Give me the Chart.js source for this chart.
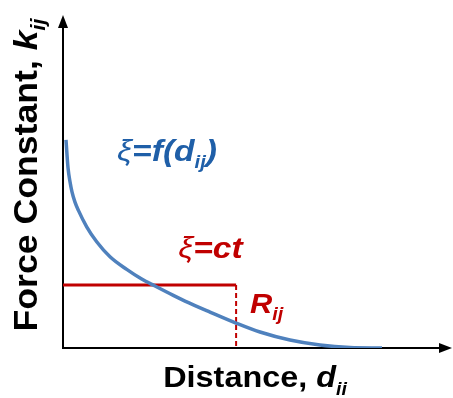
<!DOCTYPE html>
<html>
<head>
<meta charset="utf-8">
<script src="https://cdn.jsdelivr.net/npm/chart.js@4/dist/chart.umd.min.js"></script>
<style>
  html, body { margin: 0; padding: 0; background: #fff; }
  #wrap { width: 453px; height: 398px; }
</style>
</head>
<body>
<div id="wrap"><canvas id="chart" width="453" height="398"></canvas></div>
<script>
// force constant curve k_ij vs distance d_ij (arbitrary units)
const curveX = [0.77, 1.03, 1.29, 1.80, 2.31, 3.08, 3.93, 6.09, 8.66, 12.08, 16.38, 20.23, 23.65, 28.35, 31.36, 37.79, 44.47, 50.64, 58.35, 66.07, 73.78, 82.0];
const curveY = [62.5, 58.0, 54.1, 49.9, 46.9, 43.8, 41.4, 36.4, 31.9, 27.4, 23.6, 20.7, 18.6, 15.8, 14.1, 10.8, 7.5, 4.8, 2.4, 0.9, 0.15, 0];

// constant force up to the cutoff R_ij
const cutoffX = 44.5;
const constY = 18.9;
const constLineX = [0, cutoffX];
const constLineY = [constY, constY];
const cutoffLineX = [cutoffX, cutoffX];
const cutoffLineY = [constY, 0];

const BLUE = '#4f81bd';
const BLUE_TEXT = '#1f5fa8';
const RED = '#c00000';
const FONT = '"Liberation Sans", Arial, sans-serif';

function toPoints(xs, ys) {
    return xs.map((x, i) => ({ x: x, y: ys[i] }));
}

function runsWidth(ctx, runs) {
    let w = 0;
    runs.forEach(r => {
        ctx.font = r.font;
        w += ctx.measureText(r.t).width;
    });
    return w;
}

// draws text pieces one after another (used for subscripts), sx stretches along the text
function drawRuns(ctx, x, y, runs, sx) {
    sx = sx || 1;
    ctx.save();
    ctx.translate(x, y);
    ctx.scale(sx, 1);
    let cx = 0;
    runs.forEach(r => {
        ctx.font = r.font;
        ctx.fillStyle = r.color;
        ctx.fillText(r.t, cx, r.dy || 0);
        cx += ctx.measureText(r.t).width;
    });
    ctx.restore();
    return cx * sx;
}

const axesPlugin = {
    id: 'arrowAxes',
    beforeDatasetsDraw(chart) {
        const ctx = chart.ctx;
        const a = chart.chartArea;
        ctx.save();
        ctx.strokeStyle = '#000';
        ctx.fillStyle = '#000';
        ctx.lineWidth = 2;
        ctx.beginPath();
        ctx.moveTo(a.left, a.bottom);
        ctx.lineTo(a.left, a.top + 10);
        ctx.moveTo(a.left - 1, a.bottom);
        ctx.lineTo(a.right - 10, a.bottom);
        ctx.stroke();
        // arrow heads
        ctx.beginPath();
        ctx.moveTo(a.left, a.top);
        ctx.lineTo(a.left - 5, a.top + 13);
        ctx.lineTo(a.left + 5, a.top + 13);
        ctx.closePath();
        ctx.fill();
        ctx.beginPath();
        ctx.moveTo(a.right, a.bottom);
        ctx.lineTo(a.right - 13, a.bottom - 5);
        ctx.lineTo(a.right - 13, a.bottom + 5);
        ctx.closePath();
        ctx.fill();
        ctx.restore();
    },
    afterDatasetsDraw(chart) {
        const ctx = chart.ctx;
        const xs = chart.scales.x;
        const ys = chart.scales.y;
        ctx.save();
        ctx.textBaseline = 'alphabetic';
        ctx.textAlign = 'left';

        const bi = (s) => 'italic bold ' + s + 'px ' + FONT;

        // curve label
        drawRuns(ctx, xs.getPixelForValue(13.9), ys.getPixelForValue(56.2), [
            { t: 'ξ', font: 'italic 30px ' + FONT, color: BLUE_TEXT },
            { t: '=f(d', font: bi(30), color: BLUE_TEXT },
            { t: 'ij', font: bi(18), color: BLUE_TEXT, dy: 7 },
            { t: ')', font: bi(30), color: BLUE_TEXT }
        ], 1.12);

        // constant label
        drawRuns(ctx, xs.getPixelForValue(29.6), ys.getPixelForValue(27.0), [
            { t: 'ξ', font: 'italic 30px ' + FONT, color: RED },
            { t: '=ct', font: bi(30), color: RED }
        ], 1.12);

        // cutoff label
        drawRuns(ctx, xs.getPixelForValue(48.1), ys.getPixelForValue(10.5), [
            { t: 'R', font: bi(28), color: RED },
            { t: 'ij', font: bi(18), color: RED, dy: 7 }
        ], 1.1);

        // axis titles
        const xTitle = [
            { t: 'Distance, ', font: 'bold 30px ' + FONT, color: '#000' },
            { t: 'd', font: bi(30), color: '#000' },
            { t: 'ii', font: bi(18), color: '#000', dy: 8 }
        ];
        const xw = runsWidth(ctx, xTitle) * 1.08;
        drawRuns(ctx, 255 - xw / 2, 387, xTitle, 1.08);

        const yTitle = [
            { t: 'Force Constant, ', font: 'bold 33px ' + FONT, color: '#000' },
            { t: 'k', font: bi(33), color: '#000' },
            { t: 'ij', font: bi(20), color: '#000', dy: 8 }
        ];
        const yw = runsWidth(ctx, yTitle) * 1.08;
        ctx.translate(37, 175);
        ctx.rotate(-Math.PI / 2);
        drawRuns(ctx, -yw / 2, 0, yTitle, 1.08);
        ctx.restore();
    }
};

new Chart(document.getElementById('chart'), {
    type: 'scatter',
    data: {
        datasets: [
            {
                data: toPoints(curveX, curveY),
                showLine: true,
                borderColor: BLUE,
                borderWidth: 3.5,
                pointRadius: 0,
                cubicInterpolationMode: 'monotone',
                fill: false
            },
            {
                data: toPoints(constLineX, constLineY),
                showLine: true,
                borderColor: RED,
                borderWidth: 3,
                pointRadius: 0
            },
            {
                data: toPoints(cutoffLineX, cutoffLineY),
                showLine: true,
                borderColor: RED,
                borderWidth: 2,
                borderDash: [5, 3],
                pointRadius: 0
            }
        ]
    },
    options: {
        responsive: false,
        animation: false,
        devicePixelRatio: 1,
        layout: { padding: { left: 63, right: 1, top: 15, bottom: 50 } },
        plugins: {
            legend: { display: false },
            tooltip: { enabled: false }
        },
        scales: {
            x: {
                type: 'linear',
                min: 0,
                max: 100,
                display: false
            },
            y: {
                type: 'linear',
                min: 0,
                max: 100,
                display: false
            }
        }
    },
    plugins: [axesPlugin]
});
</script>
</body>
</html>
